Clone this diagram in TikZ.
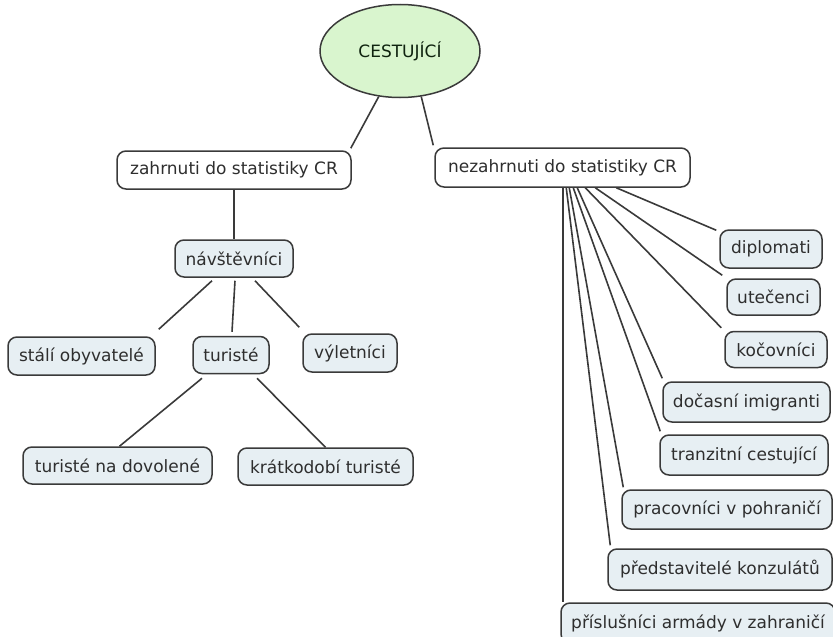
\documentclass[tikz,border=0pt]{standalone}
\usepackage{fontspec}
\setmainfont{DejaVu Sans}
\usetikzlibrary{shapes.geometric,calc}
\definecolor{boxfill}{HTML}{E7EFF3}
\definecolor{ellfill}{HTML}{D9F5CE}
\definecolor{ink}{HTML}{2E2E2E}
\definecolor{edge}{HTML}{3A3A3A}
\tikzset{
  base/.style={draw=edge, line width=1.5pt, rounded corners=9pt, inner sep=0pt,
    align=center, text=ink, font=\fontsize{17}{20}\selectfont},
  topbox/.style={base, fill=white},
  leaf/.style={base, fill=boxfill},
  conn/.style={draw=edge, line width=1.6pt}
}
\begin{document}
\begin{tikzpicture}[x=1pt,y=-1pt]
\useasboundingbox (0,0) rectangle (833,637);
% root
\node[ellipse, draw=edge, line width=1.5pt, fill=ellfill, minimum width=160pt, minimum height=93pt,
  inner sep=0pt, text=ink!80!green!40!black, font=\fontsize{17}{20}\selectfont] (ces) at (400,51) {CESTUJÍCÍ};
% level 1
\node[topbox, minimum width=234pt, minimum height=38pt] (zah) at (234,170) {zahrnuti do statistiky CR};
\node[topbox, minimum width=255pt, minimum height=39pt] (nez) at (562.5,167.5) {nezahrnuti do statistiky CR};
% left branch
\node[leaf, minimum width=118pt, minimum height=37pt] (nav) at (234,258.5) {návštěvníci};
\node[leaf, minimum width=147pt, minimum height=38pt] (sta) at (81.5,356) {stálí obyvatelé};
\node[leaf, minimum width=76pt, minimum height=37pt] (tur) at (231,355) {turisté};
\node[leaf, minimum width=94pt, minimum height=38pt] (vyl) at (350,353) {výletníci};
\node[leaf, minimum width=189pt, minimum height=37pt] (tnd) at (117.5,465.5) {turisté na dovolené};
\node[leaf, minimum width=175pt, minimum height=37pt] (kra) at (325.5,466.5) {krátkodobí turisté};
% right branch
\node[leaf, minimum width=102pt, minimum height=38pt] (dip) at (771,249) {diplomati};
\node[leaf, minimum width=93pt, minimum height=36pt] (ute) at (773.5,297) {utečenci};
\node[leaf, minimum width=102pt, minimum height=36pt] (koc) at (776,349.5) {kočovníci};
\node[leaf, minimum width=167pt, minimum height=40pt] (doc) at (746.5,402) {dočasní imigranti};
\node[leaf, minimum width=168pt, minimum height=40pt] (tra) at (744,455) {tranzitní cestující};
\node[leaf, minimum width=210pt, minimum height=39pt] (pra) at (727,509.5) {pracovníci v pohraničí};
\node[leaf, minimum width=224pt, minimum height=41pt] (pre) at (720,569.5) {představitelé konzulátů};
\node[leaf, minimum width=274pt, minimum height=40pt] (arm) at (698,623) {příslušníci armády v zahraničí};
% connectors
\draw[conn] (ces.245) -- ($(zah.north east)+(-1,-2)$);
\draw[conn] (ces.295) -- ($(nez.north west)+(-1,-2)$);
\draw[conn] (zah) -- (nav);
\draw[conn] ($(nav.south)+(-22,3)$) -- ($(sta.north east)+(3,-7)$);
\draw[conn] ($(nav.south)+(1,3)$) -- ($(tur.north)+(1,-4)$);
\draw[conn] ($(nav.south)+(21,3)$) -- ($(vyl.north west)+(-3,-6)$);
\draw[conn] ($(tur.south)+(-29,4)$) -- ($(tnd.north)+(2,0)$);
\draw[conn] ($(tur.south)+(26,4)$) -- (kra.north);
% fan from nez
\coordinate (aStart) at ($(nez.south west)+(129,0)$);
\draw[conn] (aStart) -- (aStart |- arm.north);
\draw[conn] ($(nez.south west)+(132,0)$) -- ($(pre.north west)+(3,-3)$);
\draw[conn] ($(nez.south west)+(135,0)$) -- ($(pra.north west)+(2,-2)$);
\draw[conn] ($(nez.south west)+(139,0)$) -- ($(tra.north west)+(1,-3)$);
\draw[conn] ($(nez.south west)+(143,0)$) -- ($(doc.north west)+(0,-3)$);
\draw[conn] ($(nez.south west)+(151,0)$) -- ($(koc.north west)+(-3,-3)$);
\draw[conn] ($(nez.south west)+(161,0)$) -- ($(ute.north west)+(-4,-3)$);
\draw[conn] ($(nez.south west)+(182,0)$) -- ($(dip.north west)+(-3,1)$);
\end{tikzpicture}
\end{document}
